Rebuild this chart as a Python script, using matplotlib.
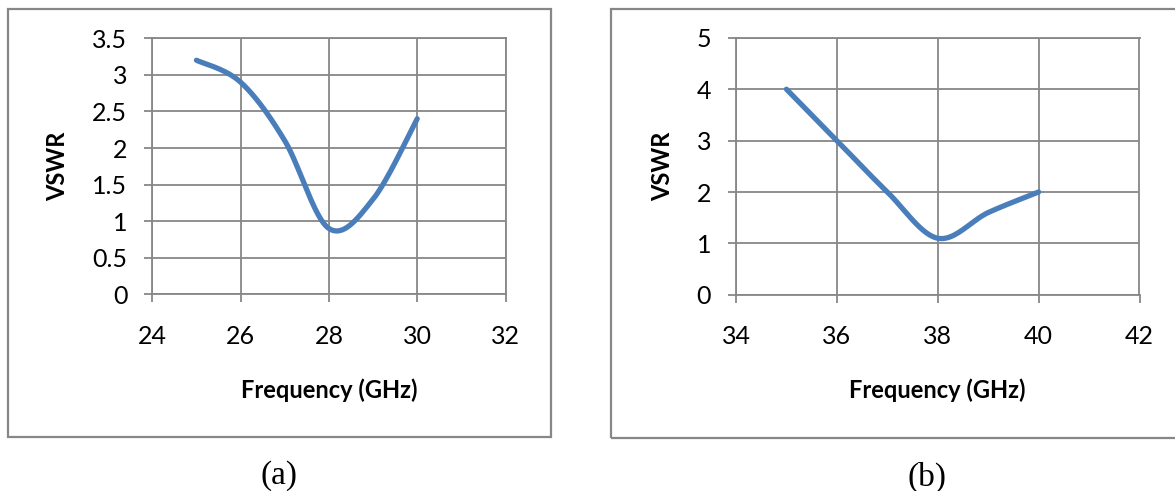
import matplotlib.pyplot as plt
import numpy as np
from matplotlib.patches import Rectangle

# panel (a)
freq_a = [25, 26, 27, 28, 29, 30]
vswr_a = [3.2, 2.9, 2.1, 0.9, 1.3, 2.4]
xticks_a = [24, 26, 28, 30, 32]
yticks_a = [0, 0.5, 1, 1.5, 2, 2.5, 3, 3.5]
yticklabels_a = ["0", "0.5", "1", "1.5", "2", "2.5", "3", "3.5"]

# panel (b)
freq_b = [35, 36, 37, 38, 39, 40]
vswr_b = [4, 3, 2, 1.1, 1.6, 2]
xticks_b = [34, 36, 38, 40, 42]
yticks_b = [0, 1, 2, 3, 4, 5]

LINE = "#4A7EBB"
GRID = "#878787"
plt.rcParams['font.family'] = ['Lato', 'DejaVu Sans']


def smooth(x, y, n=40):
    # excel-style smoothed line (catmull-rom through the points)
    x = np.asarray(x, float)
    y = np.asarray(y, float)
    px = np.concatenate([[x[0]], x, [x[-1]]])
    py = np.concatenate([[y[0]], y, [y[-1]]])
    xs, ys = [], []
    t = np.linspace(0, 1, n)
    h00 = 2*t**3 - 3*t**2 + 1
    h10 = t**3 - 2*t**2 + t
    h01 = -2*t**3 + 3*t**2
    h11 = t**3 - t**2
    for i in range(1, len(px) - 2):
        mx0 = (px[i+1] - px[i-1]) / 2
        mx1 = (px[i+2] - px[i]) / 2
        my0 = (py[i+1] - py[i-1]) / 2
        my1 = (py[i+2] - py[i]) / 2
        xs.append(h00*px[i] + h10*mx0 + h01*px[i+1] + h11*mx1)
        ys.append(h00*py[i] + h10*my0 + h01*py[i+1] + h11*my1)
    return np.concatenate(xs), np.concatenate(ys)


W, H = 1175, 491
fig = plt.figure(figsize=(W/100, H/100), dpi=100)

# chart frames
for (x0, y0, x1, y1) in [(7.5, 8.5, 551, 437), (611, 8.5, 1180, 437.5)]:
    fig.patches.append(Rectangle((x0/W, 1 - y1/H), (x1-x0)/W, (y1-y0)/H,
                                 transform=fig.transFigure, fill=False,
                                 edgecolor=GRID, linewidth=1.6))

ax_a = fig.add_axes([152.3/W, 1 - 294.3/H, 353.2/W, 256/H])
ax_b = fig.add_axes([736/W, 1 - 294.8/H, 403.5/W, 257/H])

panels = [
    (ax_a, freq_a, vswr_a, xticks_a, yticks_a, yticklabels_a, 58),
    (ax_b, freq_b, vswr_b, xticks_b, yticks_b, [str(v) for v in yticks_b], 662.5),
]

for ax, fx, fy, xt, yt, ytl, ylab_x in panels:
    sx, sy = smooth(fx, fy)
    ax.plot(sx, sy, color=LINE, linewidth=3.8, solid_capstyle='round',
            solid_joinstyle='round', zorder=3)
    ax.set_xlim(xt[0], xt[-1])
    ax.set_ylim(yt[0], yt[-1])
    ax.set_xticks(xt)
    ax.set_yticks(yt)
    ax.set_yticklabels(ytl)
    ax.grid(True, color=GRID, linewidth=1.3)
    for s in ax.spines.values():
        s.set_color(GRID)
        s.set_linewidth(1.3)
    ax.tick_params(axis='x', direction='out', length=6, width=1.3, color=GRID,
                   labelsize=18, pad=16)
    ax.tick_params(axis='y', direction='out', length=6, width=1.3, color=GRID,
                   labelsize=18, pad=12)
    ax.set_xlabel("Frequency (GHz)", fontsize=17, fontweight='bold', va='center')
    ax.set_ylabel("VSWR", fontsize=17, fontweight='bold', va='center')
    bb = ax.get_position()
    left_px, bottom_px = bb.x0 * W, (1 - bb.y0) * H
    ax.xaxis.set_label_coords(0.5, -(390 - bottom_px) / (bb.height * H))
    ax.yaxis.set_label_coords(-(left_px - ylab_x) / (bb.width * W), 0.5)

fig.text(279/W, 1 - 476/H, "(a)", ha='center', va='center',
         family='Liberation Serif', fontsize=24)
fig.text(927/W, 1 - 477/H, "(b)", ha='center', va='center',
         family='Liberation Serif', fontsize=24)

fig.savefig("out.png", dpi=100)
